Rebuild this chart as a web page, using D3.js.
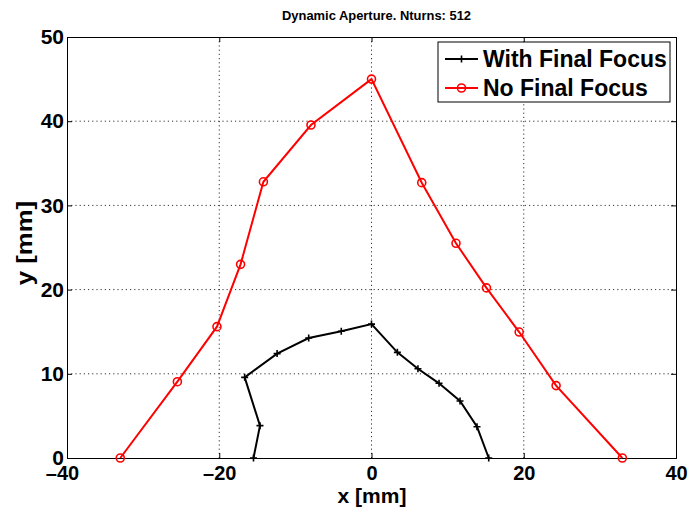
<!DOCTYPE html>
<html>
<head>
<meta charset="utf-8">
<script src="https://cdn.jsdelivr.net/npm/d3@7"></script>
<style>
  body { margin: 0; background: #fff; }
  svg text { font-family: "Liberation Sans", Arial, sans-serif; font-weight: bold; }
</style>
</head>
<body>
<svg id="chart"></svg>
<script>
// With Final Focus (black, + markers)
const withFFx = [-15.5, -14.65, -16.66, -12.4, -8.25, -3.97, 0, 3.4, 6.1, 8.87, 11.63, 13.86, 15.4];
const withFFy = [0, 3.84, 9.58, 12.4, 14.25, 15.05, 15.9, 12.55, 10.6, 8.87, 6.77, 3.72, 0];

// No Final Focus (red, o markers)
const noFFx = [-33.0, -25.5, -20.3, -17.2, -14.2, -7.95, 0, 6.6, 11.1, 15.1, 19.4, 24.25, 32.95];
const noFFy = [0, 9.06, 15.6, 23.0, 32.8, 39.55, 45.0, 32.7, 25.5, 20.2, 14.96, 8.6, 0];

const xTicks = [-40, -20, 0, 20, 40];
const yTicks = [0, 10, 20, 30, 40, 50];
const seriesNames = ["With Final Focus", "No Final Focus"];

const W = 688, H = 511;
const margin = {top: 37, right: 12, bottom: 53, left: 67};
const width = W - margin.left - margin.right;
const height = H - margin.top - margin.bottom;

const svg = d3.select("#chart").attr("width", W).attr("height", H);
const g = svg.append("g").attr("transform", `translate(${margin.left},${margin.top})`);

const x = d3.scaleLinear().domain([-40, 40]).range([0, width]);
const y = d3.scaleLinear().domain([0, 50]).range([height, 0]);

// dotted grid
g.append("g").selectAll("line").data(xTicks.slice(1, -1)).join("line")
  .attr("x1", d => x(d)).attr("x2", d => x(d)).attr("y1", 0).attr("y2", height)
  .attr("stroke", "#000").attr("stroke-width", 0.8).attr("stroke-dasharray", "1.2,3");
g.append("g").selectAll("line").data(yTicks.slice(1, -1)).join("line")
  .attr("y1", d => y(d)).attr("y2", d => y(d)).attr("x1", 0).attr("x2", width)
  .attr("stroke", "#000").attr("stroke-width", 0.8).attr("stroke-dasharray", "1.2,3");

// axes (ticks inside, like matlab)
const xAxis = g.append("g").attr("transform", `translate(0,${height})`)
  .call(d3.axisBottom(x).tickValues(xTicks).tickSize(-5).tickPadding(8).tickFormat(d => d < 0 ? "\u2013" + Math.abs(d) : d));
const yAxis = g.append("g")
  .call(d3.axisLeft(y).tickValues(yTicks).tickSize(-5).tickPadding(3));
g.append("g").call(d3.axisTop(x).tickValues(xTicks).tickSize(-5).tickFormat(""));
g.append("g").attr("transform", `translate(${width},0)`)
  .call(d3.axisRight(y).tickValues(yTicks).tickSize(-5).tickFormat(""));
g.selectAll(".domain").attr("stroke", "#000").attr("stroke-width", 1);
g.selectAll(".tick line").attr("stroke", "#000");
xAxis.selectAll("text").attr("font-size", 20).attr("fill", "#000");
yAxis.selectAll("text").attr("font-size", 21).attr("fill", "#000");
// first x label sits a little left of its tick, as in the original
xAxis.selectAll(".tick").filter(d => d === -40).select("text").attr("dx", -5);

// lines
const line = d3.line().x(d => x(d[0])).y(d => y(d[1]));
const blackPts = withFFx.map((v, i) => [v, withFFy[i]]);
const redPts = noFFx.map((v, i) => [v, noFFy[i]]);

g.append("path").datum(redPts).attr("d", line)
  .attr("fill", "none").attr("stroke", "#f00").attr("stroke-width", 2);
g.selectAll(".red-mark").data(redPts).join("circle").attr("class", "red-mark")
  .attr("cx", d => x(d[0])).attr("cy", d => y(d[1])).attr("r", 4)
  .attr("fill", "none").attr("stroke", "#f00").attr("stroke-width", 1.6);

g.append("path").datum(blackPts).attr("d", line)
  .attr("fill", "none").attr("stroke", "#000").attr("stroke-width", 2);
g.selectAll(".black-mark").data(blackPts).join("path").attr("class", "black-mark")
  .attr("transform", d => `translate(${x(d[0])},${y(d[1])})`)
  .attr("d", "M-3.5,0H3.5M0,-3.5V3.5")
  .attr("stroke", "#000").attr("stroke-width", 1.6);

// title and labels
svg.append("text").attr("x", 282).attr("y", 20)
  .attr("font-size", 12).attr("textLength", 189).attr("lengthAdjust", "spacingAndGlyphs")
  .text("Dynamic Aperture. Nturns: 512");
svg.append("text").attr("x", 372).attr("y", 503).attr("text-anchor", "middle")
  .attr("font-size", 21).text("x [mm]");
svg.append("text").attr("transform", "translate(32,243) rotate(-90) scale(1.17,1)").attr("text-anchor", "middle")
  .attr("font-size", 22).text("y [mm]");

// legend
const leg = svg.append("g").attr("transform", "translate(438,42)");
leg.append("rect").attr("width", 232).attr("height", 60)
  .attr("fill", "#fff").attr("stroke", "#000").attr("stroke-width", 1);
const legColors = ["#000", "#f00"];
seriesNames.forEach((name, i) => {
  const ly = 17 + i * 29;
  leg.append("line").attr("x1", 7).attr("x2", 40).attr("y1", ly).attr("y2", ly)
    .attr("stroke", legColors[i]).attr("stroke-width", 2);
  if (i === 0) {
    leg.append("path").attr("transform", `translate(23.5,${ly})`)
      .attr("d", "M-3.5,0H3.5M0,-3.5V3.5").attr("stroke", "#000").attr("stroke-width", 1.6);
  } else {
    leg.append("circle").attr("cx", 23.5).attr("cy", ly).attr("r", 4)
      .attr("fill", "none").attr("stroke", "#f00").attr("stroke-width", 1.6);
  }
  leg.append("text").attr("x", 45).attr("y", ly + 8).attr("font-size", 23).text(name);
});
</script>
</body>
</html>
